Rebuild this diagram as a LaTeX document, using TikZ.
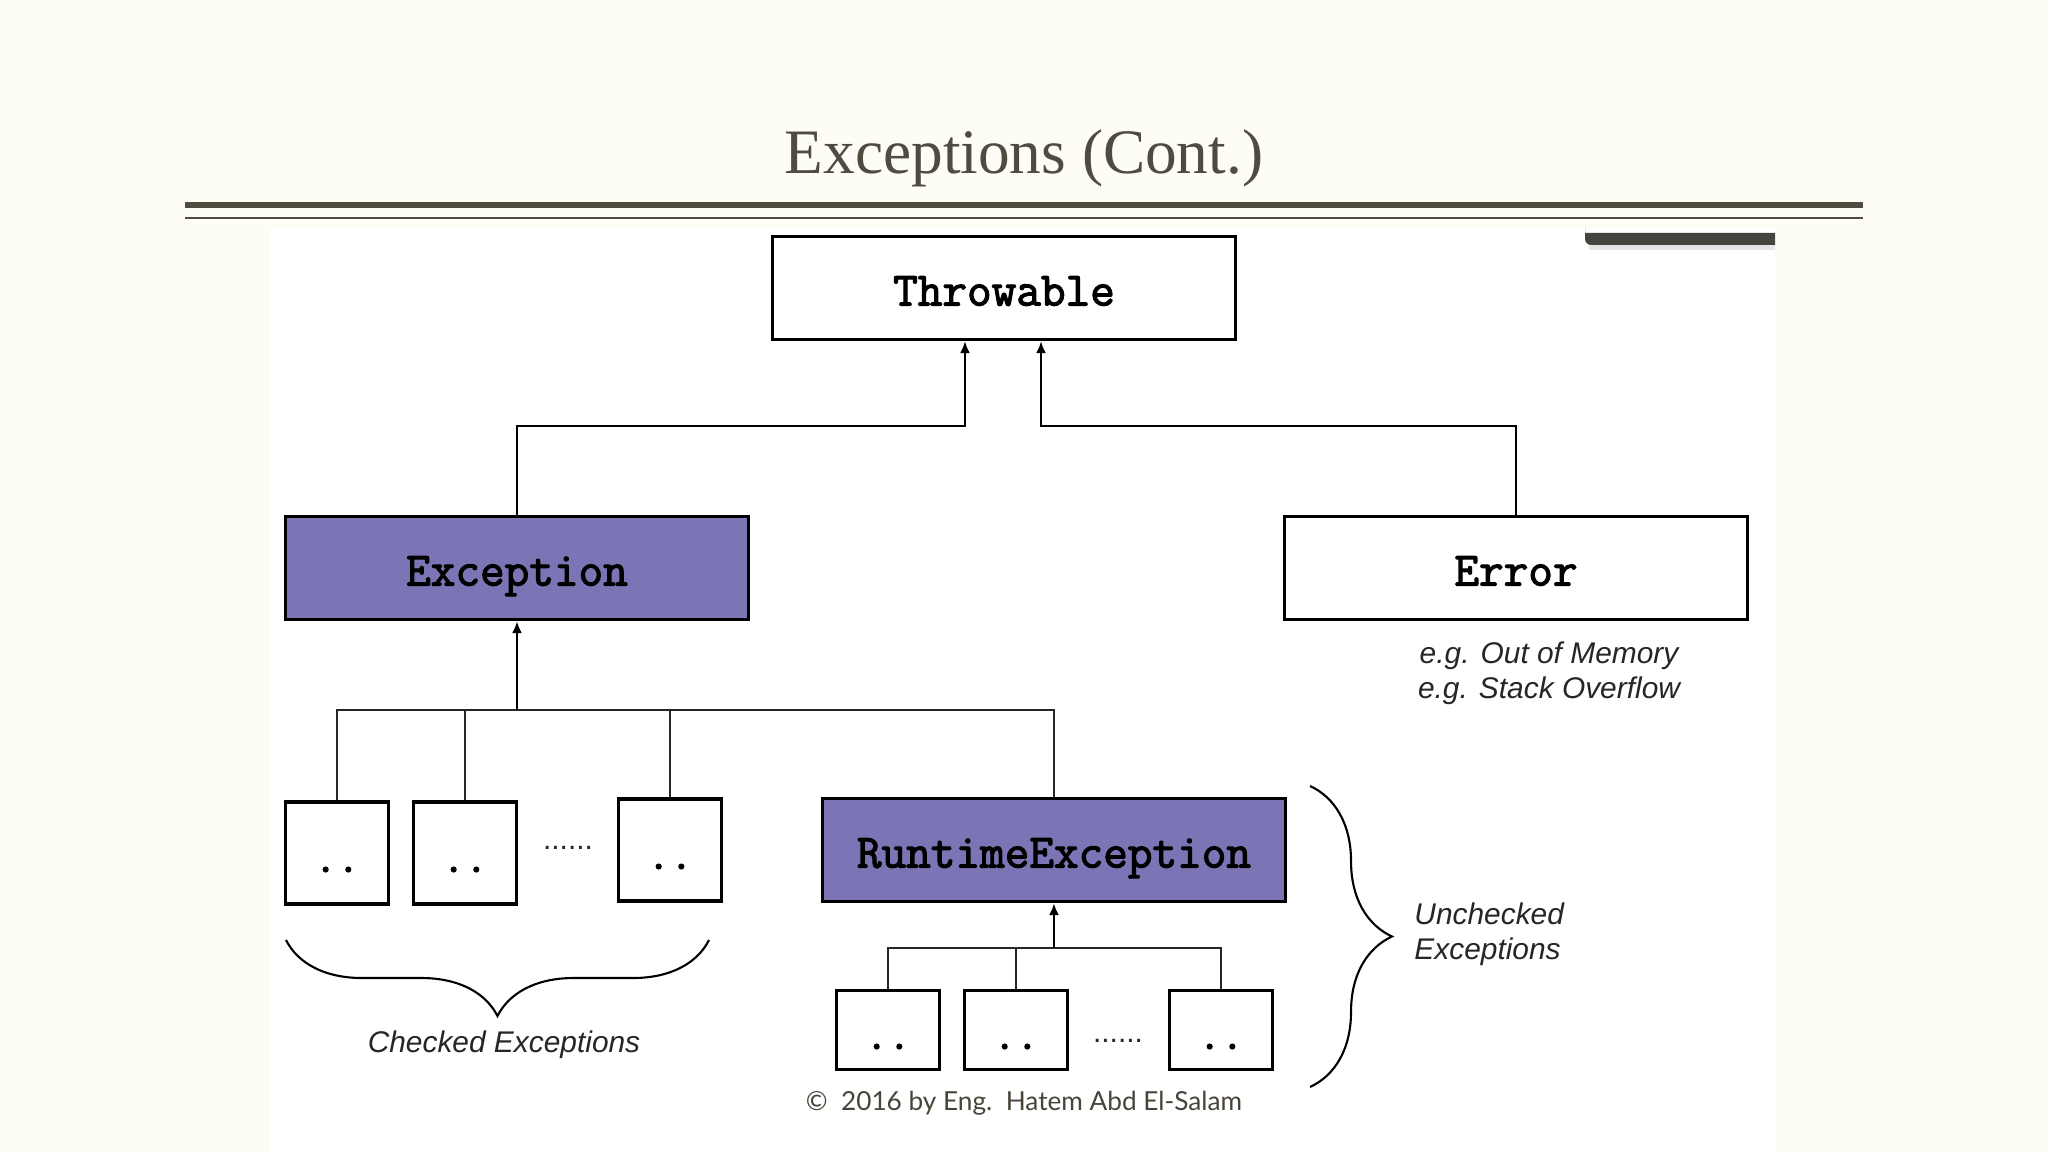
\documentclass[tikz,border=0pt]{standalone}
\usepackage{fontspec}
\setmainfont{Liberation Serif}
\setsansfont{Liberation Sans}
\newfontfamily\codefont{Latin Modern Mono}[FakeBold=2.5]
\newfontfamily\copyfont{Lato}
\usetikzlibrary{arrows.meta,decorations.pathreplacing}
\definecolor{SlideBg}{HTML}{FEFDF5}
\definecolor{TitleGray}{HTML}{4F4B3F}
\definecolor{BoxPurple}{HTML}{7B75B6}
\definecolor{BarGray}{HTML}{46443F}

\begin{document}
\begin{tikzpicture}[x=0.01cm,y=-0.01cm,line join=miter,
    classbox/.style={draw=black,line width=0.9pt,minimum width=4.62cm,minimum height=1.03cm,inner sep=0pt,
        text height=4.1mm,text depth=0.6mm,font=\fontsize{13.6}{15}\selectfont\codefont},
    leafbox/.style={draw=black,line width=0.9pt,fill=white,minimum width=1.03cm,minimum height=1.02cm,inner sep=0pt,
        text height=3.8mm,text depth=0pt,font=\fontsize{12.5}{14}\selectfont\codefont},
    link/.style={draw=black!85,line width=0.65pt},
    uplink/.style={draw=black,line width=0.8pt,-{Latex[length=1.2mm,width=1mm]}},
    note/.style={font=\fontsize{8.5}{10}\selectfont\sffamily\itshape,text=black!85},
    gap/.style={font=\fontsize{8.5}{10}\selectfont\sffamily,text=black!85}]
    \useasboundingbox (0,0) rectangle (2048,1152);
    \fill[SlideBg] (0,0) rectangle (2048,1152);
    \fill[white] (270,228) rectangle (1775,1152);

    % title and rules
    \node[anchor=base,text=TitleGray,font=\fontsize{18}{20}\selectfont] (title) at (1024,174) {Exceptions (Cont.)};
    \fill[TitleGray] (185,202) rectangle (1863,208);
    \fill[TitleGray] (185,217) rectangle (1863,219);
    \fill[black!20,opacity=0.5] (1589,237) -| (1775,250) -| (1589,237) -- cycle;
    \fill[BarGray] (1585,233) -| (1775,245) [rounded corners=0.06cm] -| (1585,233) [sharp corners] -- cycle;

    % classes
    \node[classbox,fill=white] (thr) at (1004,288) {Throwable};
    \node[classbox,fill=BoxPurple] (exc) at (517,568) {Exception};
    \node[classbox,fill=white] (err) at (1516,568) {Error};
    \node[classbox,fill=BoxPurple] (rte) at (1054,850) {RuntimeException};

    \node[leafbox] (c1) at (337,853) {..};
    \node[leafbox] (c2) at (465,853) {..};
    \node[leafbox] (c3) at (670,850) {..};
    \node[gap] (cdots) at (568,848) {......};

    \node[leafbox,minimum height=0.79cm] (u1) at (888,1030) {..};
    \node[leafbox,minimum height=0.79cm] (u2) at (1016,1030) {..};
    \node[leafbox,minimum height=0.79cm] (u3) at (1221,1030) {..};
    \node[gap] (udots) at (1118,1041) {......};

    % inheritance
    \coordinate (thrL) at ([xshift=-0.39cm]thr.south);
    \coordinate (thrR) at ([xshift=0.37cm]thr.south);
    \draw[uplink,line width=0.65pt] (exc.north) -- ++(0,-89) -| (thrL);
    \draw[uplink,line width=0.65pt] (err.north) -- ++(0,-89) -| (thrR);

    \coordinate (ebus) at (517,710);
    \foreach \n in {c1,c2,c3,rte}
        \draw[link] (\n.north) |- (ebus);
    \draw[uplink] (ebus) -- (exc.south);

    \coordinate (rbus) at (1054,948);
    \foreach \n in {u1,u2,u3}
        \draw[link] (\n.north) |- (rbus);
    \draw[uplink] (rbus) -- (rte.south);

    % braces and notes
    \draw[line width=0.6pt,decorate,decoration={brace,amplitude=7.6mm}] (709,940) -- (286,940);
    \draw[line width=0.6pt,decorate,decoration={brace,amplitude=8.2mm}] (1310,786) -- (1310,1087);

    \node[note,align=center] (errnote) at (1549,673) {e.g. Out of Memory\\e.g. Stack Overflow};
    \node[note] (chk) at (504,1045) {Checked Exceptions};
    \node[note,anchor=west,align=left] (unchk) at (1402,934) {Unchecked\\Exceptions};

    \node[anchor=base,text=TitleGray!90!black,font=\fontsize{7.45}{9}\selectfont\copyfont] (copy) at (1024,1110) {\copyright{}\ \ 2016 by Eng.\ \ Hatem Abd El-Salam};
\end{tikzpicture}
\end{document}
